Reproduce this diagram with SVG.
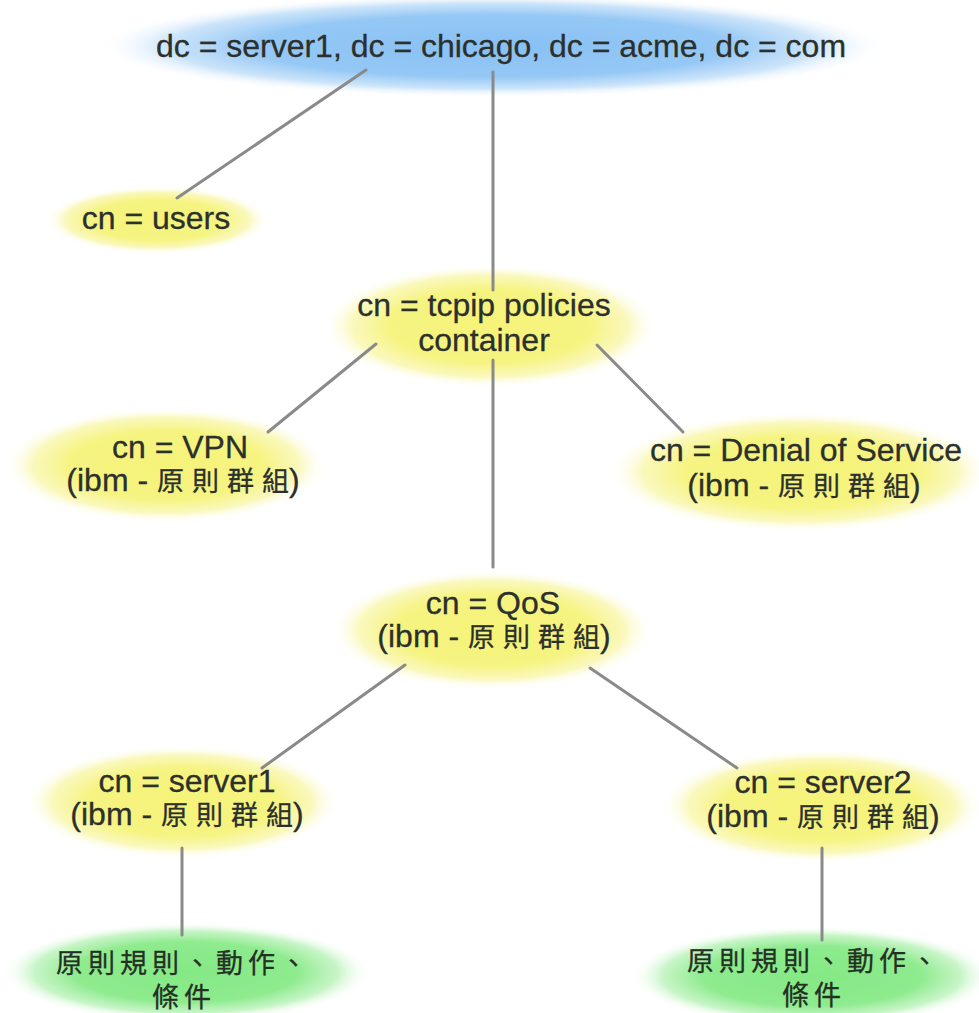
<svg xmlns="http://www.w3.org/2000/svg" width="979" height="1013" viewBox="0 0 979 1013">
  <defs>
    <!-- soft-edged fills for the directory entries -->
    <radialGradient id="gBlue" cx="50%" cy="50%" r="50%">
      <stop offset="0" stop-color="#88c0f4"/>
      <stop offset="0.6" stop-color="#95c8f5"/>
      <stop offset="0.82" stop-color="#c2dff9" stop-opacity="0.85"/>
      <stop offset="1" stop-color="#ffffff" stop-opacity="0"/>
    </radialGradient>
    <radialGradient id="gYellow" cx="50%" cy="50%" r="50%">
      <stop offset="0" stop-color="#f5f378"/>
      <stop offset="0.6" stop-color="#f6f482"/>
      <stop offset="0.82" stop-color="#f9f7b0" stop-opacity="0.85"/>
      <stop offset="1" stop-color="#ffffff" stop-opacity="0"/>
    </radialGradient>
    <radialGradient id="gGreen" cx="50%" cy="50%" r="50%">
      <stop offset="0" stop-color="#84e984"/>
      <stop offset="0.6" stop-color="#8eeb8e"/>
      <stop offset="0.82" stop-color="#bdf3bd" stop-opacity="0.85"/>
      <stop offset="1" stop-color="#ffffff" stop-opacity="0"/>
    </radialGradient>
  </defs>
  <style>
    .lbl { font-family: "Liberation Sans", Arial, "Noto Sans CJK TC", sans-serif; font-size: 32px; fill: #2c302c; stroke: #2c302c; stroke-width: 0.3; text-anchor: middle; }
    .cjk { font-family: "Noto Sans CJK TC", sans-serif; font-size: 27px; letter-spacing: 8px; }
    .cjk-end { font-family: "Noto Sans CJK TC", sans-serif; font-size: 27px; letter-spacing: 0; }
    .leaf { font-family: "Noto Sans CJK TC", sans-serif; font-size: 27px; letter-spacing: 5px; fill: #243024; stroke: #243024; stroke-width: 0.3; text-anchor: middle; }
    .conn { stroke: #8a8a8a; stroke-width: 3; stroke-linecap: round; fill: none; }
  </style>

  <rect width="979" height="1013" fill="#ffffff"/>

  <g id="root">
    <ellipse cx="492" cy="46" rx="395" ry="52" fill="url(#gBlue)"/>
    <text class="lbl" x="501" y="57">dc = server1, dc = chicago, dc = acme, dc = com</text>
  </g>

  <g id="users">
    <ellipse cx="157" cy="220" rx="112" ry="34" fill="url(#gYellow)"/>
    <text class="lbl" x="156" y="229">cn = users</text>
  </g>

  <g id="tcpip">
    <ellipse cx="490" cy="326" rx="168" ry="62" fill="url(#gYellow)"/>
    <text class="lbl" x="484" y="316">cn = tcpip policies</text>
    <text class="lbl" x="484" y="351">container</text>
  </g>

  <g id="vpn">
    <ellipse cx="166" cy="465" rx="162" ry="58" fill="url(#gYellow)"/>
    <text class="lbl" x="180" y="458">cn = VPN</text>
    <text class="lbl" x="183" y="491">(ibm - <tspan class="cjk">原則群</tspan><tspan class="cjk-end">組</tspan>)</text>
  </g>

  <g id="dos">
    <ellipse cx="800" cy="472" rx="192" ry="60" fill="url(#gYellow)"/>
    <text class="lbl" x="806" y="461">cn = Denial of Service</text>
    <text class="lbl" x="804" y="496">(ibm - <tspan class="cjk">原則群</tspan><tspan class="cjk-end">組</tspan>)</text>
  </g>

  <g id="qos">
    <ellipse cx="492" cy="630" rx="162" ry="60" fill="url(#gYellow)"/>
    <text class="lbl" x="493" y="614">cn = QoS</text>
    <text class="lbl" x="494" y="647">(ibm - <tspan class="cjk">原則群</tspan><tspan class="cjk-end">組</tspan>)</text>
  </g>

  <g id="server1">
    <ellipse cx="182" cy="802" rx="158" ry="57" fill="url(#gYellow)"/>
    <text class="lbl" x="187" y="792">cn = server1</text>
    <text class="lbl" x="187" y="825">(ibm - <tspan class="cjk">原則群</tspan><tspan class="cjk-end">組</tspan>)</text>
  </g>

  <g id="server2">
    <ellipse cx="822" cy="806" rx="162" ry="57" fill="url(#gYellow)"/>
    <text class="lbl" x="823" y="793">cn = server2</text>
    <text class="lbl" x="823" y="827">(ibm - <tspan class="cjk">原則群</tspan><tspan class="cjk-end">組</tspan>)</text>
  </g>

  <g id="rules1">
    <ellipse cx="186" cy="972" rx="185" ry="50" fill="url(#gGreen)"/>
    <text class="leaf" x="184" y="973">原則規則、動作、</text>
    <text class="leaf" x="184" y="1007">條件</text>
  </g>

  <g id="rules2">
    <ellipse cx="812" cy="976" rx="182" ry="50" fill="url(#gGreen)"/>
    <text class="leaf" x="815" y="971">原則規則、動作、</text>
    <text class="leaf" x="814" y="1005">條件</text>
  </g>

  <g id="connectors">
    <line class="conn" x1="366" y1="70" x2="177" y2="198"/>
    <line class="conn" x1="493" y1="72" x2="493" y2="290"/>
    <line class="conn" x1="376" y1="344" x2="268" y2="432"/>
    <line class="conn" x1="597" y1="345" x2="683" y2="432"/>
    <line class="conn" x1="493" y1="360" x2="493" y2="567"/>
    <line class="conn" x1="405" y1="665" x2="262" y2="768"/>
    <line class="conn" x1="590" y1="668" x2="737" y2="768"/>
    <line class="conn" x1="182" y1="848" x2="182" y2="935"/>
    <line class="conn" x1="822" y1="848" x2="822" y2="940"/>
  </g>
</svg>
